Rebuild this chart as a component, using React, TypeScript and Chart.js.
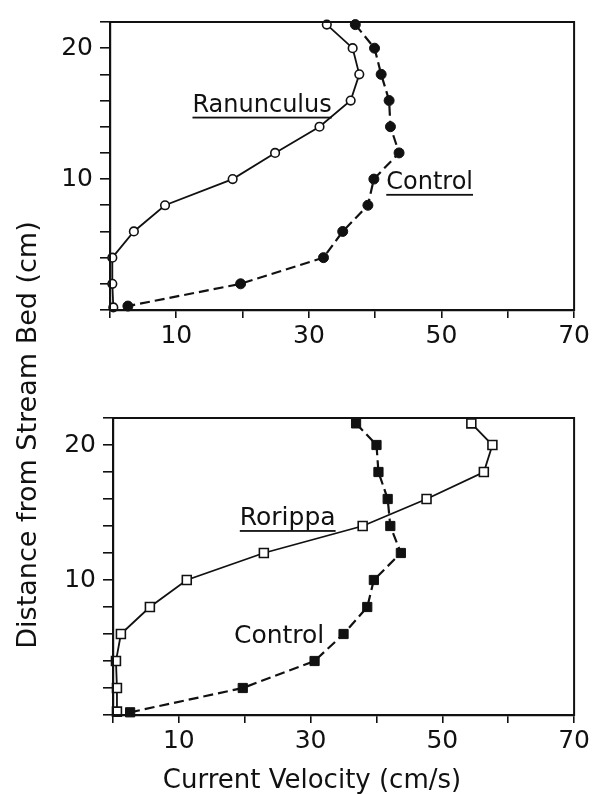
import { useEffect, useRef } from 'react';
import { Chart, registerables } from 'chart.js';

Chart.register(...registerables);

// Upper panel: Ranunculus bed vs. open control
const ranunculusDepth = [21.8, 20, 18, 16, 14, 12, 10, 8, 6, 4, 2, 0.2];
const ranunculusVelocity = [32.7, 36.6, 37.6, 36.3, 31.6, 24.9, 18.5, 8.3, 3.6, 0.35, 0.35, 0.5];
const controlUpperDepth = [21.8, 20, 18, 16, 14, 12, 10, 8, 6, 4, 2, 0.3];
const controlUpperVelocity = [37, 39.9, 40.9, 42.1, 42.3, 43.6, 39.8, 38.9, 35.1, 32.2, 19.7, 2.7];

// Lower panel: Rorippa bed vs. open control
const rorippaDepth = [21.6, 20, 18, 16, 14, 12, 10, 8, 6, 4, 2, 0.25];
const rorippaVelocity = [54.4, 57.6, 56.3, 47.6, 37.9, 22.9, 11.2, 5.6, 1.2, 0.45, 0.6, 0.6];
const controlLowerDepth = [21.6, 20, 18, 16, 14, 12, 10, 8, 6, 4, 2, 0.2];
const controlLowerVelocity = [36.9, 40, 40.3, 41.7, 42.1, 43.7, 39.6, 38.6, 35, 30.6, 19.7, 2.6];

// Labelled ticks
const velocityTickLabels = [10, 30, 50, 70];
const depthTickLabels = [10, 20];

const FONT = '"DejaVu Sans", "Liberation Sans", sans-serif';
const INK = '#111';

type Note = { text: string; x: number; y: number; size: number; underline: boolean };
type Title = { text: string; px: number; py: number; size: number; rotate: boolean };

const toPoints = (xs: number[], ys: number[]) => xs.map((x, i) => ({ x, y: ys[i] }));

// Frame, in-plot captions and page-level axis titles
const captionPlugin = {
  id: 'captions',
  afterDraw(chart: any, _args: any, opts: any) {
    const { ctx, chartArea, scales } = chart;
    ctx.save();
    ctx.strokeStyle = INK;
    ctx.lineWidth = 2;
    ctx.strokeRect(chartArea.left, chartArea.top, chartArea.right - chartArea.left, chartArea.bottom - chartArea.top);
    ctx.fillStyle = INK;
    for (const n of (opts.notes || []) as Note[]) {
      ctx.font = `${n.size}px ${FONT}`;
      ctx.textAlign = 'left';
      ctx.textBaseline = 'alphabetic';
      const px = scales.x.getPixelForValue(n.x);
      const py = scales.y.getPixelForValue(n.y);
      ctx.fillText(n.text, px, py);
      if (n.underline) {
        const w = ctx.measureText(n.text).width;
        ctx.fillRect(px, py + 5, w, 1.8);
      }
    }
    for (const t of (opts.titles || []) as Title[]) {
      ctx.save();
      ctx.font = `${t.size}px ${FONT}`;
      ctx.textAlign = 'center';
      ctx.textBaseline = 'alphabetic';
      ctx.translate(t.px, t.py);
      if (t.rotate) ctx.rotate(-Math.PI / 2);
      ctx.fillText(t.text, 0, 0);
      ctx.restore();
    }
    ctx.restore();
  },
};

function makeConfig(
  datasets: any[],
  box: { top: number; right: number; bottom: number; axisWidth: number; axisHeight: number },
  notes: Note[],
  titles: Title[]
): any {
  return {
    type: 'scatter',
    data: { datasets },
    plugins: [captionPlugin],
    options: {
      responsive: false,
      animation: false,
      events: [],
      layout: { padding: { left: 0, top: box.top, right: box.right, bottom: box.bottom } },
      plugins: {
        legend: { display: false },
        tooltip: { enabled: false },
        captions: { notes, titles },
      },
      scales: {
        x: {
          type: 'linear',
          min: 0,
          max: 70,
          afterFit: (s: any) => {
            s.height = box.axisHeight;
          },
          border: { display: true, color: INK, width: 2.2 },
          grid: { display: true, drawOnChartArea: false, drawTicks: true, tickLength: 8, color: INK, lineWidth: 1.6 },
          ticks: {
            stepSize: 10,
            autoSkip: false,
            maxRotation: 0,
            padding: 3,
            color: INK,
            font: { family: FONT, size: 25 },
            callback: (v: number) => (velocityTickLabels.includes(v) ? String(v) : ''),
          },
        },
        y: {
          type: 'linear',
          min: 0,
          max: 22,
          afterFit: (s: any) => {
            s.width = box.axisWidth;
          },
          border: { display: true, color: INK, width: 2.2 },
          grid: { display: true, drawOnChartArea: false, drawTicks: true, tickLength: 10, color: INK, lineWidth: 1.6 },
          ticks: {
            stepSize: 2,
            autoSkip: false,
            padding: 7,
            color: INK,
            font: { family: FONT, size: 25 },
            callback: (v: number) => (depthTickLabels.includes(v) ? String(v) : ''),
          },
        },
      },
    },
  };
}

function plantSeries(label: string, xs: number[], ys: number[], style: string, radius: number) {
  return {
    label,
    data: toPoints(xs, ys),
    showLine: true,
    borderColor: INK,
    borderWidth: 1.8,
    pointStyle: style,
    pointRadius: radius,
    pointBorderWidth: 1.6,
    pointBorderColor: INK,
    pointBackgroundColor: '#fff',
    clip: false,
  };
}

function controlSeries(label: string, xs: number[], ys: number[], style: string, radius: number) {
  return {
    label,
    data: toPoints(xs, ys),
    showLine: true,
    borderColor: INK,
    borderWidth: 2.2,
    borderDash: [10, 5],
    pointStyle: style,
    pointRadius: radius,
    pointBorderWidth: 1,
    pointBorderColor: INK,
    pointBackgroundColor: INK,
    clip: false,
  };
}

export default function App() {
  const upperRef = useRef<HTMLCanvasElement>(null);
  const lowerRef = useRef<HTMLCanvasElement>(null);

  useEffect(() => {
    const upper = new Chart(
      upperRef.current as HTMLCanvasElement,
      makeConfig(
        [
          plantSeries('Ranunculus', ranunculusVelocity, ranunculusDepth, 'circle', 4.3),
          controlSeries('Control', controlUpperVelocity, controlUpperDepth, 'circle', 5),
        ],
        { top: 8, right: 16, bottom: 794 - 310 - 40, axisWidth: 110, axisHeight: 40 },
        [
          { text: 'Ranunculus', x: 12.44, y: 15.15, size: 24, underline: true },
          { text: 'Control', x: 41.67, y: 9.25, size: 24, underline: true },
        ],
        []
      )
    );
    const lower = new Chart(
      lowerRef.current as HTMLCanvasElement,
      makeConfig(
        [
          plantSeries('Rorippa', rorippaVelocity, rorippaDepth, 'rect', 6.3),
          controlSeries('Control', controlLowerVelocity, controlLowerDepth, 'rect', 6.5),
        ],
        { top: 418, right: 11, bottom: 0, axisWidth: 113, axisHeight: 79 },
        [
          { text: 'Rorippa', x: 19.25, y: 14.07, size: 25, underline: true },
          { text: 'Control', x: 18.36, y: 5.33, size: 25, underline: false },
        ],
        [
          { text: 'Current Velocity (cm/s)', px: 312, py: 788, size: 26, rotate: false },
          { text: 'Distance from Stream Bed (cm)', px: 36, py: 435, size: 27, rotate: true },
        ]
      )
    );
    return () => {
      upper.destroy();
      lower.destroy();
    };
  }, []);

  return (
    <div style={{ position: 'fixed', left: 0, top: 0, width: 593, height: 794, background: '#fff' }}>
      <canvas ref={upperRef} width={593} height={794} style={{ position: 'absolute', left: 0, top: 0 }} />
      <canvas ref={lowerRef} width={593} height={794} style={{ position: 'absolute', left: 0, top: 0 }} />
    </div>
  );
}
